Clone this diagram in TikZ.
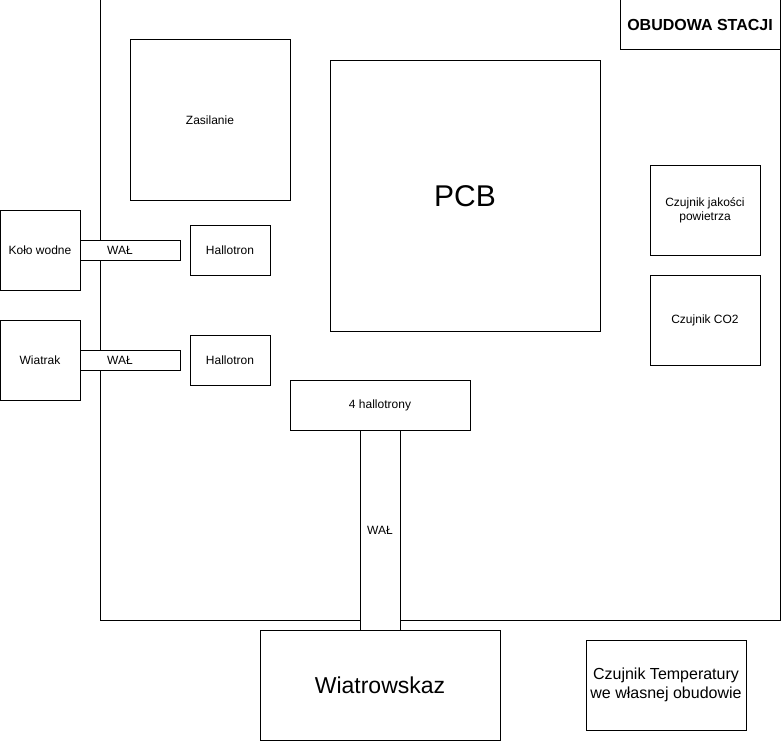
\documentclass[tikz,border=0pt]{standalone}
\usepackage{fontspec}
\setmainfont{Liberation Sans}
\begin{document}
\begin{tikzpicture}[x=1pt,y=-1pt,
  box/.style={draw=black,fill=white,line width=1pt,inner sep=0pt,align=center,font=\fontsize{12}{14}\selectfont},
  shaft/.style={box},
  shafttext/.style={label={[xshift=-10pt,font=\fontsize{12}{14}\selectfont,inner sep=0pt]center:WAŁ}}]
\useasboundingbox (0,0) rectangle (781,741);
% enclosure
\node[draw=black,line width=1pt,inner sep=0pt,minimum width=680pt,minimum height=620pt] (obudowa) at (440,310) {};
\node[box,minimum width=160pt,minimum height=50pt,font=\fontsize{16}{19}\selectfont\bfseries] (title) at (700,25) {OBUDOWA STACJI};
\node[box,minimum width=160pt,minimum height=160pt] (zas) at (210,120) {Zasilanie};
\node[box,minimum width=270pt,minimum height=270pt,font=\fontsize{30}{36}\selectfont] (pcb) at (465,196) {PCB};
\node[box,minimum width=110pt,minimum height=90pt] (air) at (705,210) {Czujnik jakości\\powietrza};
\node[box,minimum width=110pt,minimum height=90pt] (co2) at (705,320) {Czujnik CO2};
\node[box,minimum width=80pt,minimum height=80pt] (kolo) at (40,250) {Koło wodne};
\node[shaft,shafttext,minimum width=100pt,minimum height=20pt] (wal1) at (130,250) {};
\node[box,minimum width=80pt,minimum height=50pt] (hal1) at (230,250) {Hallotron};
\node[box,minimum width=80pt,minimum height=80pt] (wiatrak) at (40,360) {Wiatrak};
\node[shaft,shafttext,minimum width=100pt,minimum height=20pt] (wal2) at (130,360) {};
\node[box,minimum width=80pt,minimum height=50pt] (hal2) at (230,360) {Hallotron};
\node[box,minimum width=180pt,minimum height=50pt] (hal4) at (380,405) {4 hallotrony};
\node[shaft,minimum width=40pt,minimum height=200pt] (wal3) at (380,530) {WAŁ};
\node[box,minimum width=240pt,minimum height=110pt,font=\fontsize{23}{28}\selectfont] (wiatrowskaz) at (380,685) {Wiatrowskaz};
\node[box,minimum width=160pt,minimum height=90pt,font=\fontsize{16}{19}\selectfont] (temp) at (666,685) {Czujnik Temperatury\\we własnej obudowie};
\end{tikzpicture}
\end{document}
